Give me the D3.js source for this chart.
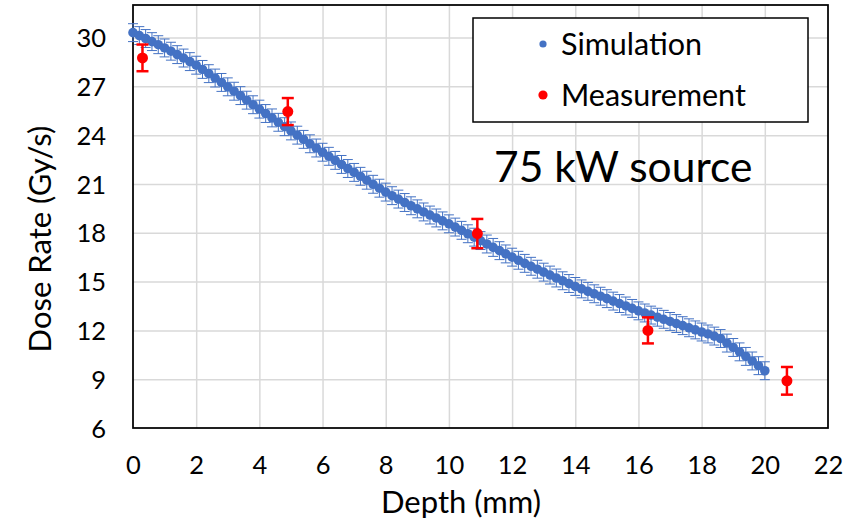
<!DOCTYPE html>
<html>
<head>
<meta charset="utf-8">
<script src="https://cdn.jsdelivr.net/npm/d3@7"></script>
<style>
  body { margin: 0; background: #fff; }
  text { font-family: Lato, "Open Sans", sans-serif; fill: #000; }
</style>
</head>
<body>
<div id="chart"></div>
<script>
// simulated dose rate, one value every 0.2 mm from 0 to 20 mm
var simDepth = d3.range(0, 101).map(function(i){ return +(i * 0.2).toFixed(1); });
var simDose = [
  30.30, 30.12, 29.94, 29.75, 29.56, 29.36, 29.16, 28.95, 28.74, 28.52,
  28.30, 28.04, 27.78, 27.51, 27.24, 26.97, 26.70, 26.43, 26.15, 25.87,
  25.60, 25.33, 25.06, 24.79, 24.52, 24.26, 24.00, 23.74, 23.47, 23.21,
  22.95, 22.70, 22.45, 22.20, 21.95, 21.71, 21.47, 21.23, 20.98, 20.74,
  20.50, 20.28, 20.07, 19.86, 19.66, 19.47, 19.28, 19.09, 18.91, 18.73,
  18.55, 18.35, 18.15, 17.94, 17.73, 17.52, 17.31, 17.10, 16.90, 16.70,
  16.50, 16.31, 16.12, 15.94, 15.76, 15.58, 15.40, 15.22, 15.05, 14.88,
  14.70, 14.55, 14.40, 14.25, 14.10, 13.95, 13.80, 13.65, 13.50, 13.35,
  13.20, 13.07, 12.94, 12.81, 12.68, 12.55, 12.42, 12.29, 12.16, 12.03,
  11.90, 11.78, 11.65, 11.50, 11.22, 10.95, 10.68, 10.40, 10.12, 9.83,
  9.52
];
var simErr = 0.55;

// measured points
var measDepth = [0.3, 4.9, 10.9, 16.3, 20.7];
var measDose = [28.75, 25.45, 17.95, 12.0, 8.9];
var measErr = [0.82, 0.83, 0.9, 0.8, 0.85];

var xTicks = [0, 2, 4, 6, 8, 10, 12, 14, 16, 18, 20, 22];
var yTicks = [6, 9, 12, 15, 18, 21, 24, 27, 30];

var seriesNames = ['Simulation', 'Measurement'];
var seriesColors = ['#4472C4', '#FF0000'];

// plot area
var margin = {top: 5, right: 21, bottom: 92, left: 133};
var width = 849 - margin.left - margin.right;
var height = 520 - margin.top - margin.bottom;

var svg = d3.select('#chart')
  .append('svg')
  .attr('width', 849)
  .attr('height', 520);

var g = svg.append('g')
  .attr('transform', 'translate(' + margin.left + ',' + margin.top + ')');

var xScale = d3.scaleLinear().domain([0, 22]).range([0, width]);
var yScale = d3.scaleLinear().domain([6, 32]).range([height, 0]);

// gridlines
g.append('g')
  .attr('class', 'grid')
  .attr('transform', 'translate(0,' + height + ')')
  .call(d3.axisBottom(xScale).tickValues(xTicks.slice(1, -1)).tickSize(-height).tickFormat(''));
g.append('g')
  .attr('class', 'grid')
  .call(d3.axisLeft(yScale).tickValues(yTicks.slice(1)).tickSize(-width).tickFormat(''));
g.selectAll('.grid .domain').remove();
g.selectAll('.grid line').attr('stroke', '#d9d9d9').attr('stroke-width', 1.5);

// tick labels
var xAxis = g.append('g')
  .attr('transform', 'translate(0,' + height + ')')
  .call(d3.axisBottom(xScale).tickValues(xTicks).tickSize(0).tickPadding(28));
var yAxis = g.append('g')
  .call(d3.axisLeft(yScale).tickValues(yTicks).tickSize(0).tickPadding(27));
[xAxis, yAxis].forEach(function(a){
  a.select('.domain').remove();
  a.selectAll('text')
    .attr('font-family', 'Lato, sans-serif')
    .attr('font-size', 25.5)
    .attr('fill', '#000');
});
yAxis.selectAll('text').attr('dy', '0.36em');

// plot border
g.append('rect')
  .attr('width', width)
  .attr('height', height)
  .attr('fill', 'none')
  .attr('stroke', '#000')
  .attr('stroke-width', 1.75);

// simulation error bars + markers
var sim = simDepth.map(function(d, i){ return {x: d, y: simDose[i]}; });
var simBars = g.append('g').attr('stroke', seriesColors[0]).attr('stroke-width', 1);
sim.forEach(function(d){
  var cx = xScale(d.x);
  simBars.append('line').attr('x1', cx).attr('x2', cx)
    .attr('y1', yScale(d.y - simErr)).attr('y2', yScale(d.y + simErr));
  simBars.append('line').attr('x1', cx - 5).attr('x2', cx + 5)
    .attr('y1', yScale(d.y - simErr)).attr('y2', yScale(d.y - simErr));
  simBars.append('line').attr('x1', cx - 5).attr('x2', cx + 5)
    .attr('y1', yScale(d.y + simErr)).attr('y2', yScale(d.y + simErr));
});
g.selectAll('.sim')
  .data(sim)
  .enter().append('circle')
  .attr('class', 'sim')
  .attr('cx', function(d){ return xScale(d.x); })
  .attr('cy', function(d){ return yScale(d.y); })
  .attr('r', 4.8)
  .attr('fill', seriesColors[0]);

// measurement error bars + markers
var meas = measDepth.map(function(d, i){ return {x: d, y: measDose[i], e: measErr[i]}; });
var measBars = g.append('g').attr('stroke', seriesColors[1]).attr('stroke-width', 2.5);
meas.forEach(function(d){
  var cx = xScale(d.x);
  measBars.append('line').attr('x1', cx).attr('x2', cx)
    .attr('y1', yScale(d.y - d.e)).attr('y2', yScale(d.y + d.e));
  measBars.append('line').attr('x1', cx - 6).attr('x2', cx + 6)
    .attr('y1', yScale(d.y - d.e)).attr('y2', yScale(d.y - d.e));
  measBars.append('line').attr('x1', cx - 6).attr('x2', cx + 6)
    .attr('y1', yScale(d.y + d.e)).attr('y2', yScale(d.y + d.e));
});
g.selectAll('.meas')
  .data(meas)
  .enter().append('circle')
  .attr('class', 'meas')
  .attr('cx', function(d){ return xScale(d.x); })
  .attr('cy', function(d){ return yScale(d.y); })
  .attr('r', 5.5)
  .attr('fill', seriesColors[1]);

// legend
var legend = svg.append('g');
legend.append('rect')
  .attr('x', 473).attr('y', 18)
  .attr('width', 335).attr('height', 104)
  .attr('fill', '#fff')
  .attr('stroke', '#000')
  .attr('stroke-width', 1.5);
seriesNames.forEach(function(name, i){
  legend.append('circle')
    .attr('cx', 543).attr('cy', 44 + i * 51)
    .attr('r', i === 0 ? 3.6 : 4.6)
    .attr('fill', seriesColors[i]);
  legend.append('text')
    .attr('x', 561).attr('y', 44 + i * 51)
    .attr('dy', '0.36em')
    .attr('font-size', 30.5)
    .text(name);
});

// annotation
svg.append('text')
  .attr('x', 494).attr('y', 182)
  .attr('font-size', 42.5)
  .text('75 kW source');

// axis titles
svg.append('text')
  .attr('x', 461).attr('y', 513)
  .attr('text-anchor', 'middle')
  .attr('font-size', 31)
  .text('Depth (mm)');
svg.append('text')
  .attr('transform', 'translate(51,239) rotate(-90)')
  .attr('text-anchor', 'middle')
  .attr('font-size', 31)
  .text('Dose Rate (Gy/s)');
</script>
</body>
</html>
